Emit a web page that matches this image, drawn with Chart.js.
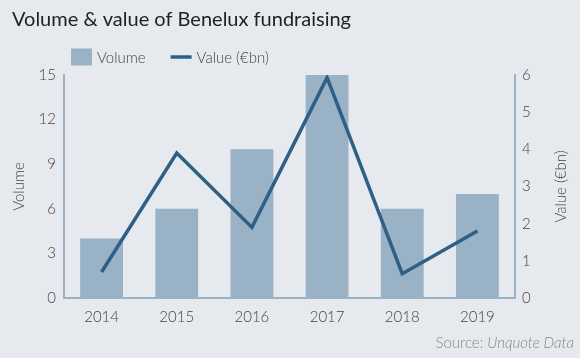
<!DOCTYPE html>
<html>
<head>
<meta charset="utf-8">
<script src="https://cdn.jsdelivr.net/npm/chart.js@4"></script>
<style>
  html, body { margin: 0; padding: 0; background: #e6e9ee; }
  #wrap { width: 580px; height: 358px; }
</style>
</head>
<body>
<div id="wrap"><canvas id="chart" width="580" height="358"></canvas></div>
<script>
const years = ['2014', '2015', '2016', '2017', '2018', '2019'];
const volume = [4, 6, 10, 15, 6, 7];
const valueBn = [0.7, 3.9, 1.9, 5.93, 0.65, 1.8];

const barColor = '#9ab2c6';
const lineColor = '#2e5f86';
const tickColor = '#444';
const lightFont = { family: 'Lato', size: 15, weight: 300 };

// legend drawn by hand so the spacing matches (box, then line sample)
const legendPlugin = {
    id: 'customLegend',
    afterDraw(chart) {
        const ctx = chart.ctx;
        const cy = 57;
        ctx.save();
        ctx.font = '300 15px Lato';
        ctx.textBaseline = 'middle';
        ctx.textAlign = 'left';
        let x = 71;
        // bar dataset (index 1) first, then line dataset
        [1, 0].forEach(i => {
            const ds = chart.data.datasets[i];
            if (ds.type === 'bar') {
                ctx.fillStyle = ds.backgroundColor;
                ctx.fillRect(x, cy - 8.5, 21, 17);
            } else {
                ctx.strokeStyle = ds.borderColor;
                ctx.lineWidth = ds.borderWidth;
                ctx.beginPath();
                ctx.moveTo(x, cy);
                ctx.lineTo(x + 21, cy);
                ctx.stroke();
            }
            ctx.fillStyle = '#444';
            ctx.fillText(ds.label, x + 26, cy + 1);
            x += 26 + ctx.measureText(ds.label).width + 25;
        });
        ctx.restore();
    }
};

// right axis title reads bottom-to-top like the left one
const rightTitlePlugin = {
    id: 'rightTitle',
    afterDraw(chart) {
        const ctx = chart.ctx;
        const area = chart.chartArea;
        ctx.save();
        ctx.translate(561, (area.top + area.bottom) / 2);
        ctx.rotate(-Math.PI / 2);
        ctx.font = '300 15px Lato';
        ctx.fillStyle = '#444';
        ctx.textAlign = 'center';
        ctx.textBaseline = 'middle';
        ctx.fillText('Value (€bn)', 0, 0);
        ctx.restore();
    }
};

// source line at the bottom right, "Unquote Data" in italics
const sourcePlugin = {
    id: 'source',
    afterDraw(chart) {
        const ctx = chart.ctx;
        ctx.save();
        ctx.fillStyle = '#888';
        ctx.textBaseline = 'alphabetic';
        ctx.textAlign = 'right';
        ctx.font = 'italic 300 15px Lato';
        const italicPart = 'Unquote Data';
        const x = 574, y = 348;
        ctx.fillText(italicPart, x, y);
        const w = ctx.measureText(italicPart).width;
        ctx.font = '300 15px Lato';
        ctx.fillText('Source: ', x - w, y);
        ctx.restore();
    }
};

const ctx = document.getElementById('chart').getContext('2d');

const myChart = new Chart(ctx, {
    data: {
        labels: years,
        datasets: [
            {
                type: 'line',
                label: 'Value (€bn)',
                data: valueBn,
                yAxisID: 'y2',
                borderColor: lineColor,
                backgroundColor: lineColor,
                borderWidth: 3.5,
                pointRadius: 0,
                tension: 0,
                order: 0
            },
            {
                type: 'bar',
                label: 'Volume',
                data: volume,
                yAxisID: 'y',
                backgroundColor: barColor,
                borderWidth: 0,
                categoryPercentage: 1,
                barPercentage: 0.57,
                order: 1
            }
        ]
    },
    options: {
        responsive: false,
        animation: false,
        layout: {
            padding: { left: 12, right: 0, top: 0, bottom: 22 }
        },
        scales: {
            x: {
                grid: { display: false, drawTicks: false },
                border: { color: barColor, width: 2 },
                ticks: { color: tickColor, font: lightFont, padding: 10 }
            },
            y: {
                position: 'left',
                min: 0,
                max: 15,
                ticks: { stepSize: 3, color: tickColor, font: lightFont, padding: 8 },
                grid: { display: false, drawTicks: false },
                border: { color: barColor, width: 2 },
                title: { display: true, text: 'Volume', color: '#444', font: lightFont, padding: { top: -2, bottom: 0 } },
                afterFit(scale) { scale.width = 52; }
            },
            y2: {
                position: 'right',
                min: 0,
                max: 6,
                ticks: { stepSize: 1, color: tickColor, font: lightFont, padding: 7 },
                grid: { display: false, drawTicks: false },
                border: { color: barColor, width: 2 },
                afterFit(scale) { scale.width = 65; }
            }
        },
        plugins: {
            title: {
                display: true,
                text: 'Volume & value of Benelux fundraising',
                align: 'start',
                color: '#222',
                font: { family: 'Lato', size: 20, weight: 'normal' },
                padding: { top: 8, bottom: 43 }
            },
            legend: { display: false },
            tooltip: { enabled: false }
        }
    },
    plugins: [legendPlugin, rightTitlePlugin, sourcePlugin]
});
</script>
</body>
</html>
